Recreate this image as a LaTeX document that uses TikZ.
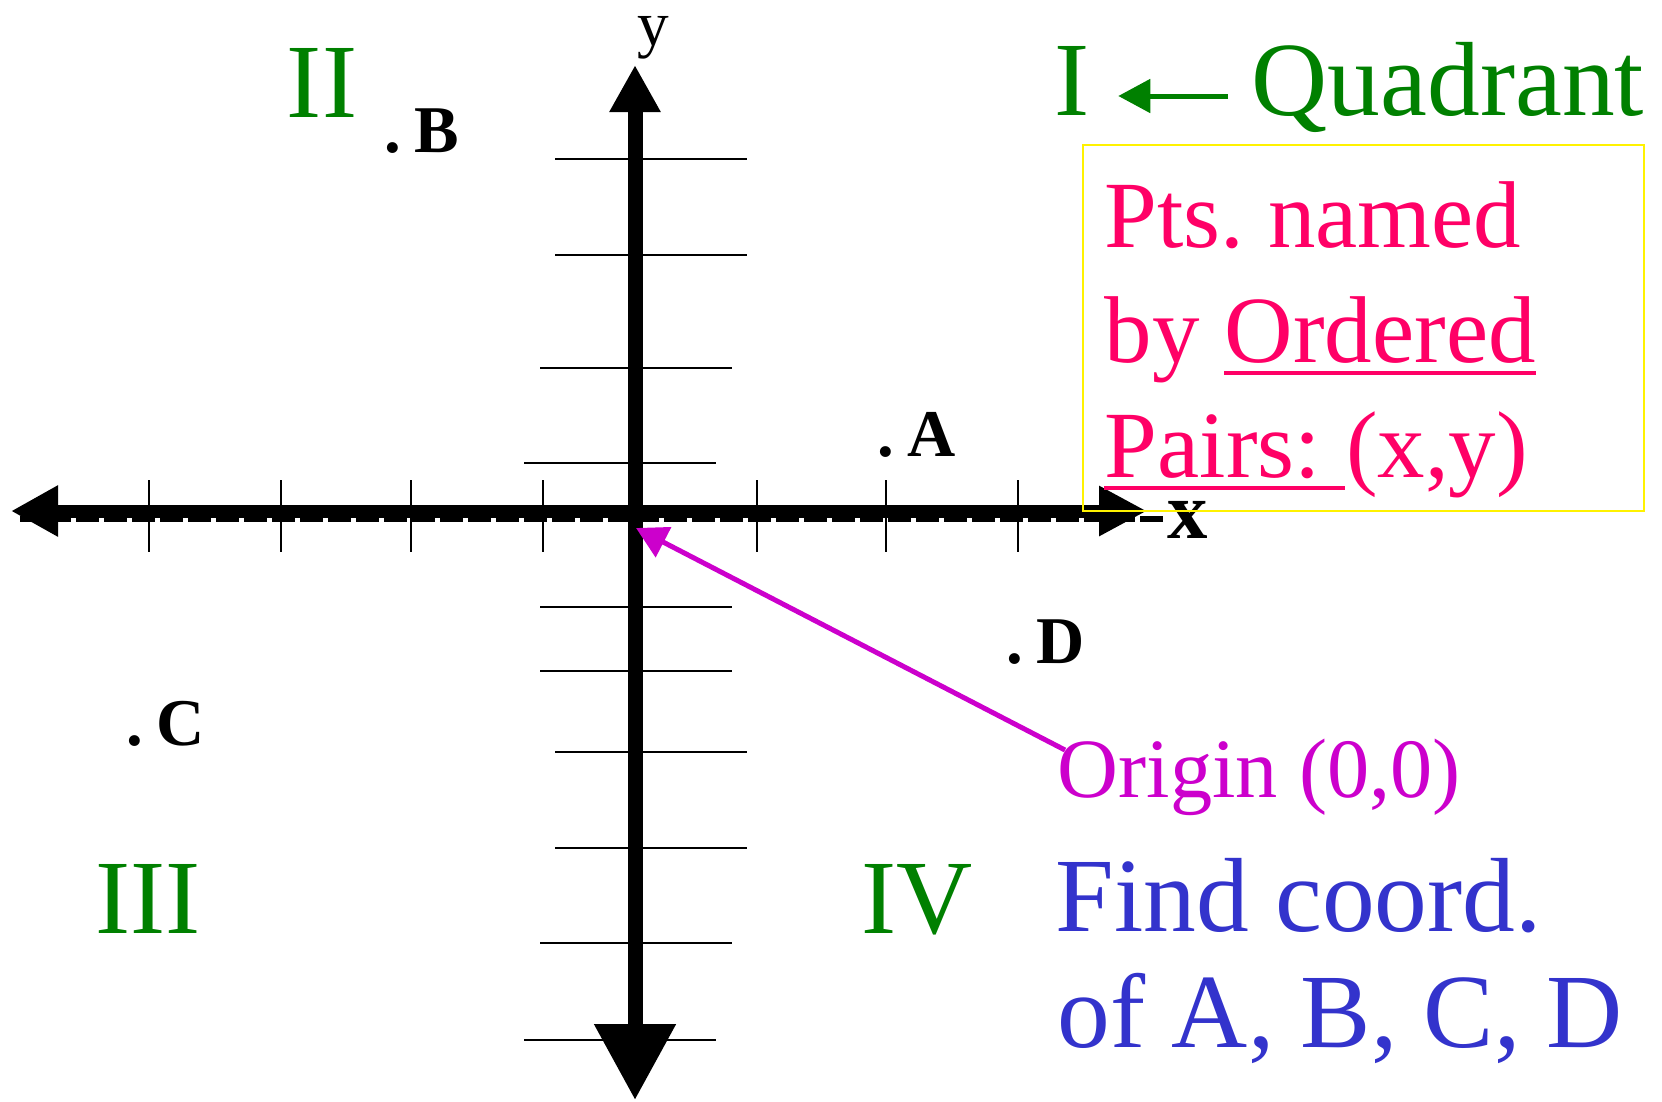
\documentclass[tikz,border=0pt]{standalone}
\usepackage{fontspec}
\setmainfont{Liberation Serif}
\usepackage{tikz}
\usetikzlibrary{arrows.meta}
\definecolor{quadgreen}{RGB}{0, 128, 0}
\definecolor{notepink}{RGB}{255, 0, 102}
\definecolor{originmag}{RGB}{204, 0, 204}
\definecolor{findblue}{RGB}{51, 51, 204}
\frenchspacing

\begin{document}
\begin{tikzpicture}[x=0.1mm, y=-0.1mm,
        txt/.style={inner sep=0pt, anchor=base west},
        quad/.style={inner sep=0pt, anchor=base, text=quadgreen, font=\fontsize{30}{33}\selectfont},
        ptlabel/.style={inner sep=0pt, anchor=base west, font=\fontsize{19}{21}\selectfont\bfseries},
        pinktxt/.style={txt, text=notepink, font=\fontsize{27}{30}\selectfont},
        gridline/.style={line width=0.27mm}]
    \useasboundingbox (0,0) rectangle (1662,1101);

    % lines across the y axis
    \foreach \y/\xa in {159/555, 255/555, 368/540, 463/524, 607/540, 671/540, 752/555, 848/555, 943/540, 1040/524}
        \draw[gridline] (\xa,\y) -- ++(192,0);
    % ticks on the x axis
    \foreach \x in {149, 281, 411, 543, 757, 886, 1018}
        \draw[gridline] (\x,480) -- (\x,552);

    % axes
    \draw[line width=0.6mm, dash pattern=on 2.3mm off 0.5mm] (20,519) -- (1163,519);
    \draw[line width=1.3mm, {Triangle[length=4.7mm, width=4.8mm]}-{Triangle[length=4.8mm, width=4.7mm]}] (11,511) -- (1147,511);
    \draw[line width=1.5mm, {Triangle[length=7.6mm, width=7.8mm]}-{Triangle[length=4.7mm, width=4.8mm]}] (635,1100) -- (635,65);
    \node[inner sep=0pt, anchor=base, font=\fontsize{18}{20}\selectfont] (ylab) at (653,45) {y};
    \node[inner sep=0pt, anchor=base, font=\fontsize{23}{25}\selectfont\bfseries] (xlab) at (1188,538) {x};

    % quadrants
    \node[quad] (q2) at (322,117) {II};
    \node[quad] (q1) at (1072,115) {I};
    \node[quad] (q3) at (148,933) {III};
    \node[quad] (q4) at (917,933) {IV};
    \node[txt, text=quadgreen, font=\fontsize{30}{33}\selectfont] (quadrant) at (1251,115) {Quadrant};
    \draw[quadgreen, line width=0.5mm, -{Triangle[length=3.2mm, width=3.3mm]}] ([shift={(-23,-19)}]quadrant.base west) -- ([shift={(28,-19)}]q1.base east);

    % points
    \node[ptlabel] (ptB) at (384,152) {.\kern0.2em B};
    \node[ptlabel] (ptA) at (877,456) {.\kern0.2em A};
    \node[ptlabel] (ptD) at (1006,663) {.\kern0.2em D};
    \node[ptlabel] (ptC) at (126,745) {.\kern0.2em C};

    % ordered pairs box
    \draw[yellow, line width=0.2mm] (1083,145) rectangle (1644,511);
    \node[pinktxt] (pairs1) at (1104,247) {Pts. named};
    \node[pinktxt] (pairs2) at (1104,362) {by\kern0.25em};
    \node[pinktxt] (ordered) at (pairs2.base east) {Ordered};
    \node[pinktxt] (pairs3) at (1104,477) {Pairs:\kern0.25em};
    \node[pinktxt] (xy) at (pairs3.base east) {(x,y)};
    \draw[notepink, line width=0.42mm] ([shift={(0,11)}]ordered.base west) -- ([shift={(0,11)}]ordered.base east);
    \draw[notepink, line width=0.42mm] ([shift={(0,11)}]pairs3.base west) -- ([shift={(0,11)}]pairs3.base east);

    % origin
    \coordinate (otip) at (636,528);
    \node[txt, text=originmag, font=\fontsize{24}{27}\selectfont] (orig) at (1057,797) {Origin (0,0)};
    \draw[originmag, line width=0.5mm, -{Triangle[length=3.1mm, width=3.3mm]}] ([shift={(8,-47)}]orig.base west) -- (otip);

    % question
    \node[txt, text=findblue, font=\fontsize{30}{33}\selectfont] (find1) at (1055,931) {Find coord.};
    \node[txt, text=findblue, font=\fontsize{30}{33}\selectfont] (find2) at (1057,1047) {of A, B, C, D};
\end{tikzpicture}
\end{document}
